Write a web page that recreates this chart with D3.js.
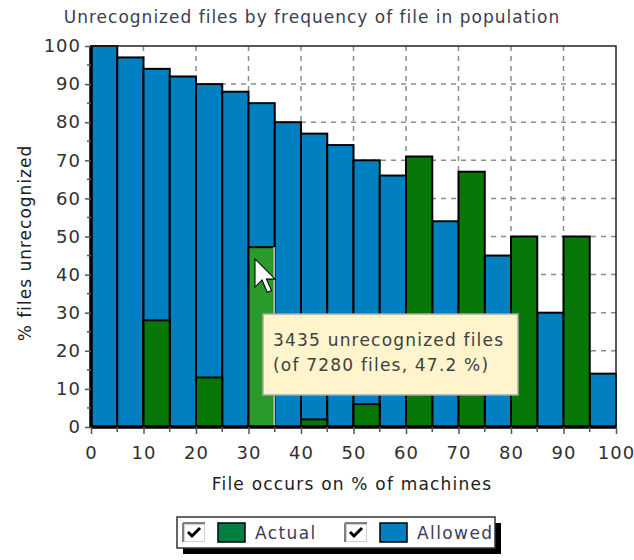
<!DOCTYPE html>
<html>
<head>
<meta charset="utf-8">
<script src="https://cdn.jsdelivr.net/npm/d3@7"></script>
<style>
  body { margin: 0; background: #fff; }
  text { font-family: "DejaVu Sans", sans-serif; }
</style>
</head>
<body>
<div id="chart"></div>
<script>
// bins of 5 % (start of each bin)
var binStart = [0, 5, 10, 15, 20, 25, 30, 35, 40, 45, 50, 55, 60, 65, 70, 75, 80, 85, 90, 95];
var allowed = [100, 97, 94, 92, 90, 88, 85, 80, 77, 74, 70, 66, null, 54, null, 45, null, 30, null, 14];
var actual  = [null, null, 28, null, 13, null, 47.2, null, 2, null, 6, null, 71, null, 67, null, 50, null, 50, null];
var xTicks = [0, 10, 20, 30, 40, 50, 60, 70, 80, 90, 100];
var yTicks = [0, 10, 20, 30, 40, 50, 60, 70, 80, 90, 100];
var seriesNames = ["Actual", "Allowed"];

// hovered bar + tooltip numbers
var hoverBin = 6;
var hoverCount = 3435;
var hoverTotal = 7280;

var svgWidth = 634, svgHeight = 560;
var colors = { Actual: "#077807", Allowed: "#0080c0" };

var svg = d3.select("#chart").append("svg")
  .attr("width", svgWidth)
  .attr("height", svgHeight);

var x = d3.scaleLinear().domain([0, 100]).range([91, 616]);
var y = d3.scaleLinear().domain([0, 100]).range([427, 46]);

// title
svg.append("text")
  .attr("x", 312).attr("y", 23)
  .attr("text-anchor", "middle")
  .attr("font-size", "17px")
  .attr("letter-spacing", "1px")
  .attr("fill", "#3c3c50")
  .text("Unrecognized files by frequency of file in population");

// plot background
svg.append("rect")
  .attr("x", x(0)).attr("y", y(100))
  .attr("width", x(100) - x(0)).attr("height", y(0) - y(100))
  .attr("fill", "#fff");

// dashed grid
var grid = svg.append("g").attr("stroke", "#8c8c8c").attr("stroke-width", 1.5).attr("stroke-dasharray", "5,5");
grid.selectAll(".gx").data(xTicks.slice(1, -1)).enter().append("line")
  .attr("x1", d => x(d)).attr("x2", d => x(d))
  .attr("y1", y(100)).attr("y2", y(0));
grid.selectAll(".gy").data(yTicks.slice(1, -1)).enter().append("line")
  .attr("x1", x(0)).attr("x2", x(100))
  .attr("y1", d => y(d)).attr("y2", d => y(d));

// bars
var bins = binStart.map(function(b, i) {
  return { start: b, allowed: allowed[i], actual: actual[i], i: i };
});

svg.append("g").selectAll("rect")
  .data(bins.filter(d => d.allowed != null))
  .enter().append("rect")
  .attr("x", d => x(d.start))
  .attr("y", d => y(d.allowed))
  .attr("width", d => x(d.start + 5) - x(d.start))
  .attr("height", d => y(0) - y(d.allowed))
  .attr("fill", colors.Allowed)
  .attr("stroke", "#000")
  .attr("stroke-width", 2);

svg.append("g").selectAll("rect")
  .data(bins.filter(d => d.actual != null))
  .enter().append("rect")
  .attr("x", d => x(d.start))
  .attr("y", d => y(d.actual))
  .attr("width", d => x(d.start + 5) - x(d.start))
  .attr("height", d => y(0) - y(d.actual))
  .attr("fill", d => d.i === hoverBin ? "#2a9a2a" : colors.Actual)
  .attr("stroke", "#000")
  .attr("stroke-width", 2);

// highlight edge of hovered bar
svg.append("line")
  .attr("x1", x(binStart[hoverBin] + 5) - 0.5).attr("x2", x(binStart[hoverBin] + 5) - 0.5)
  .attr("y1", y(actual[hoverBin])).attr("y2", y(0))
  .attr("stroke", "#b8b8b8").attr("stroke-width", 2);

// frame
svg.append("rect")
  .attr("x", x(0)).attr("y", y(100))
  .attr("width", x(100) - x(0)).attr("height", y(0) - y(100))
  .attr("fill", "none").attr("stroke", "#222").attr("stroke-width", 1.5);

// axes
var bottomAxis = d3.axisBottom(x).tickValues(xTicks).tickSize(7).tickPadding(12);
var leftAxis = d3.axisLeft(y).tickValues(yTicks).tickSize(6).tickPadding(4);

var gx = svg.append("g").attr("transform", `translate(0, ${y(0)})`).call(bottomAxis);
var gy = svg.append("g").attr("transform", `translate(${x(0)}, 0)`).call(leftAxis);

// minor ticks at 5s
svg.append("g").selectAll("line").data(xTicks.slice(0, -1)).enter().append("line")
  .attr("x1", d => x(d + 5)).attr("x2", d => x(d + 5))
  .attr("y1", y(0)).attr("y2", y(0) + 5)
  .attr("stroke", "#555").attr("stroke-width", 1.5);
svg.append("g").selectAll("line").data(yTicks.slice(0, -1)).enter().append("line")
  .attr("x1", x(0)).attr("x2", x(0) - 4)
  .attr("y1", d => y(d + 5)).attr("y2", d => y(d + 5))
  .attr("stroke", "#555").attr("stroke-width", 1.5);

[gx, gy].forEach(function(g) {
  g.select(".domain").attr("stroke", "#000").attr("stroke-width", 3.5);
  g.selectAll(".tick line").attr("stroke", "#555").attr("stroke-width", 1.5);
  g.selectAll(".tick text")
    .attr("font-family", "DejaVu Sans, sans-serif")
    .attr("font-size", "18px")
    .attr("letter-spacing", "1px")
    .attr("fill", "#303030");
});
gx.select(".domain").attr("d", `M${x(0)},0H${x(100)}`);
gy.select(".domain").attr("d", `M0,${y(0)}V${y(100)}`);

// axis labels
svg.append("text")
  .attr("transform", "translate(31, 243) rotate(-90)")
  .attr("text-anchor", "middle")
  .attr("font-size", "17px")
  .attr("letter-spacing", "1px")
  .attr("fill", "#202020")
  .text("% files unrecognized");

svg.append("text")
  .attr("x", 352).attr("y", 490)
  .attr("text-anchor", "middle")
  .attr("font-size", "17px")
  .attr("letter-spacing", "1.2px")
  .attr("fill", "#202020")
  .text("File occurs on % of machines");

// tooltip
var tip = svg.append("g").attr("transform", "translate(263, 314)");
tip.append("rect")
  .attr("width", 255).attr("height", 81)
  .attr("fill", "#fff4cc")
  .attr("stroke", "#a8a8a8").attr("stroke-width", 1.5);
tip.append("text")
  .attr("x", 10).attr("y", 32)
  .attr("font-size", "17px").attr("letter-spacing", "1.2px").attr("fill", "#404040")
  .text(`${hoverCount} unrecognized files`);
tip.append("text")
  .attr("x", 10).attr("y", 57)
  .attr("font-size", "17px").attr("letter-spacing", "1.2px").attr("fill", "#404040")
  .text(`(of ${hoverTotal} files, ${(hoverCount / hoverTotal * 100).toFixed(1)} %)`);

// mouse pointer
svg.append("path")
  .attr("transform", "translate(255, 259) scale(1.75)")
  .attr("d", "M0,0 L0,16 L4,12 L7,19 L9.5,18 L6.5,11.5 L11.5,11.5 Z")
  .attr("fill", "#fff")
  .attr("stroke", "#000")
  .attr("stroke-width", 0.6);

// legend
var legend = svg.append("g").attr("transform", "translate(177, 517)");
legend.append("rect")
  .attr("x", 6).attr("y", 6).attr("width", 318).attr("height", 31)
  .attr("fill", "#000");
legend.append("rect")
  .attr("width", 318).attr("height", 31)
  .attr("fill", "#fff").attr("stroke", "#333").attr("stroke-width", 1.5);

var legendX = [6, 168];
seriesNames.forEach(function(name, i) {
  var item = legend.append("g").attr("transform", `translate(${legendX[i]}, 6)`);
  // checkbox
  item.append("rect").attr("x", 0).attr("y", 0).attr("width", 22).attr("height", 19)
    .attr("fill", "#d4d0c8");
  item.append("rect").attr("x", 2).attr("y", 2).attr("width", 19).attr("height", 16)
    .attr("fill", "#fff");
  item.append("path").attr("d", "M0,0H22M0,0V19").attr("stroke", "#808080").attr("stroke-width", 2);
  item.append("path")
    .attr("d", "M5,9 L9,13 L17,5")
    .attr("fill", "none").attr("stroke", "#000").attr("stroke-width", 3);
  // swatch
  item.append("rect").attr("x", 35).attr("y", 0).attr("width", 27).attr("height", 19)
    .attr("fill", name === "Actual" ? "#008040" : colors.Allowed)
    .attr("stroke", "#000").attr("stroke-width", 1.5);
  item.append("text")
    .attr("x", 72).attr("y", 16)
    .attr("font-size", "17px")
    .attr("letter-spacing", "1.4px")
    .attr("fill", "#3c3c58")
    .text(name);
});
</script>
</body>
</html>
